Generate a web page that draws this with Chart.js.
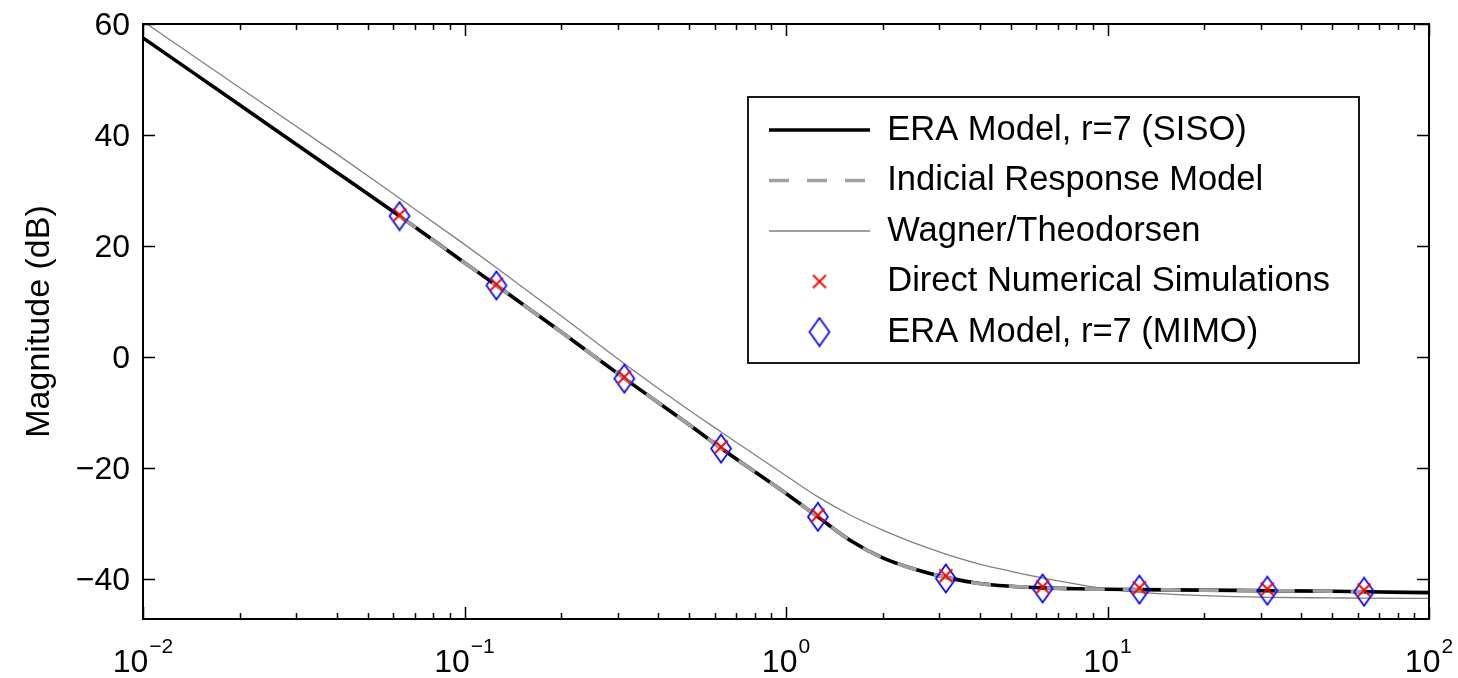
<!DOCTYPE html>
<html>
<head>
<meta charset="utf-8">
<title>Magnitude response</title>
<script src="https://cdn.jsdelivr.net/npm/chart.js@4.4.1/dist/chart.umd.min.js"></script>
<style>
  html, body { margin: 0; padding: 0; background: #fff; }
  #wrap { width: 1458px; height: 678px; }
</style>
</head>
<body>
<div id="wrap"><canvas id="bode" width="1458" height="678"></canvas></div>
<script>
// Reduced frequency grid for the continuous curves
const kGrid = [0.01, 0.02, 0.04, 0.0628, 0.1, 0.1257, 0.2, 0.3142, 0.5, 0.6283, 1.0, 1.2566, 1.6, 2.0, 2.5, 3.1416, 4.0, 5.0, 6.2832, 8.0, 10, 12.566, 20, 31.416, 50, 62.832, 100];
// ERA model, r=7 (SISO), magnitude in dB
const eraSiso = [57.5, 45.4, 33.3, 25.4, 17.0, 12.9, 4.5, -3.85, -12.2, -16.45, -24.6, -28.8, -33.2, -36.2, -38.2, -39.7, -40.8, -41.3, -41.6, -41.75, -41.85, -41.9, -42.0, -42.1, -42.2, -42.3, -42.45];
// Wagner/Theodorsen, magnitude in dB
const wagner = [60.5, 48.5, 36.6, 28.6, 20.3, 16.1, 7.4, -1.2, -9.6, -13.5, -21.4, -25.2, -28.6, -31.2, -33.5, -35.5, -37.3, -38.6, -39.8, -40.9, -41.8, -42.4, -43.0, -43.3, -43.4, -43.45, -43.5];
// Indicial response model (spans the simulated range only)
const kIndicial = [0.0628, 0.1, 0.1257, 0.2, 0.3142, 0.5, 0.6283, 1.0, 1.2566, 1.6, 2.0, 2.5, 3.1416, 4.0, 5.0, 6.2832, 8.0, 10, 12.566, 20, 31.416, 50, 62.832];
const indicial = [25.4, 17.0, 12.9, 4.5, -3.85, -12.2, -16.45, -24.6, -28.8, -33.2, -36.2, -38.2, -39.7, -40.8, -41.3, -41.6, -41.75, -41.85, -41.9, -42.0, -42.1, -42.2, -42.3];
// Discrete frequencies: direct numerical simulations and MIMO ERA model
const kSamples = [0.0628, 0.1257, 0.3142, 0.6283, 1.2566, 3.1416, 6.2832, 12.566, 31.416, 62.832];
const dns = [25.6, 13.1, -3.6, -16.2, -28.5, -39.4, -41.4, -41.6, -41.8, -42.0];
const eraMimo = [25.4, 12.9, -3.9, -16.5, -28.8, -39.9, -41.7, -41.9, -42.1, -42.3];

// Axis ticks: decades on x written as 10 with a raised exponent
const xTickValues = [0.01, 0.1, 1, 10, 100];
const xTickBase = '10';
const xTickExponents = ['\u22122', '\u22121', '0', '1', '2'];
const yTickValues = [-40, -20, 0, 20, 40, 60];
const yTickLabels = ['\u221240', '\u221220', '0', '20', '40', '60'];

const FONT = 'Liberation Sans, Arial, Helvetica, sans-serif';
const LEGEND_FRAME = { left: 748, top: 97, right: 1359, bottom: 363 };

const pts = (xs, ys) => xs.map((x, i) => ({ x: x, y: ys[i] }));

// Open diamond marker, slightly taller than wide
function diamondMarker() {
  const c = document.createElement('canvas');
  c.width = 24; c.height = 31;
  const g = c.getContext('2d');
  g.strokeStyle = '#0000ff';
  g.lineWidth = 1.7;
  g.beginPath();
  g.moveTo(12, 1.5); g.lineTo(22, 15.5); g.lineTo(12, 29.5); g.lineTo(2, 15.5);
  g.closePath();
  g.stroke();
  return c;
}
// Diagonal cross marker
function crossMarker() {
  const c = document.createElement('canvas');
  c.width = 16; c.height = 16;
  const g = c.getContext('2d');
  g.strokeStyle = '#ff0000';
  g.lineWidth = 1.8;
  g.beginPath();
  g.moveTo(1.5, 1.5); g.lineTo(14.5, 14.5);
  g.moveTo(14.5, 1.5); g.lineTo(1.5, 14.5);
  g.stroke();
  return c;
}
const diamond = diamondMarker();
const cross = crossMarker();

// Boxed axes with inward tick marks, decade labels, and the legend frame
const frameAndTicks = {
  id: 'frameAndTicks',
  afterLayout(chart) {
    const lg = chart.legend;
    if (!lg) return;
    const pad = lg.options.labels.padding;
    const fs = lg.options.labels.font.size;
    const nl = LEGEND_FRAME.left + 21 - pad;
    const nt = LEGEND_FRAME.top + 33 - fs / 2 - pad;
    const w = lg.width, h = lg.height;
    lg.left = nl; lg.right = nl + w;
    lg.top = nt; lg.bottom = nt + h;
  },
  afterDraw(chart) {
    const { ctx, chartArea: a, scales } = chart;
    const xs = scales.x, ys = scales.y;
    ctx.save();
    ctx.strokeStyle = '#000';
    ctx.lineWidth = 1.5;
    ctx.beginPath();
    xTickValues.forEach((d, i) => {
      const p = Math.round(xs.getPixelForValue(d)) + 0.5;
      ctx.moveTo(p, a.bottom); ctx.lineTo(p, a.bottom - 12);
      ctx.moveTo(p, a.top); ctx.lineTo(p, a.top + 12);
      if (i < xTickValues.length - 1) {
        for (let m = 2; m <= 9; m++) {
          const q = Math.round(xs.getPixelForValue(d * m)) + 0.5;
          ctx.moveTo(q, a.bottom); ctx.lineTo(q, a.bottom - 6);
          ctx.moveTo(q, a.top); ctx.lineTo(q, a.top + 6);
        }
      }
    });
    yTickValues.forEach((v) => {
      const p = Math.round(ys.getPixelForValue(v)) + 0.5;
      ctx.moveTo(a.left, p); ctx.lineTo(a.left + 12, p);
      ctx.moveTo(a.right, p); ctx.lineTo(a.right - 12, p);
    });
    ctx.stroke();
    ctx.lineWidth = 2;
    ctx.strokeRect(a.left, a.top, a.right - a.left, a.bottom - a.top);
    ctx.lineWidth = 1.8;
    ctx.strokeRect(LEGEND_FRAME.left, LEGEND_FRAME.top,
      LEGEND_FRAME.right - LEGEND_FRAME.left, LEGEND_FRAME.bottom - LEGEND_FRAME.top);

    // decade labels on the x axis
    const baseFont = '32px ' + FONT;
    const expFont = '21px ' + FONT;
    ctx.fillStyle = '#000';
    ctx.textBaseline = 'alphabetic';
    ctx.textAlign = 'left';
    xTickValues.forEach((d, i) => {
      const p = xs.getPixelForValue(d);
      ctx.font = baseFont;
      const wb = ctx.measureText(xTickBase).width;
      ctx.font = expFont;
      const we = ctx.measureText(xTickExponents[i]).width;
      const x0 = p - (wb + 1 + we) / 2;
      ctx.font = baseFont;
      ctx.fillText(xTickBase, x0, a.bottom + 53);
      ctx.font = expFont;
      ctx.fillText(xTickExponents[i], x0 + wb + 1, a.bottom + 34);
    });
    ctx.restore();
  }
};

Chart.defaults.font.family = FONT;
Chart.defaults.color = '#000';

new Chart(document.getElementById('bode'), {
  type: 'line',
  data: {
    datasets: [
      {
        label: 'ERA Model, r=7 (SISO)',
        data: pts(kGrid, eraSiso),
        borderColor: '#000000', borderWidth: 3.6,
        pointRadius: 0, cubicInterpolationMode: 'monotone', clip: 0, order: 4
      },
      {
        label: 'Indicial Response Model',
        data: pts(kIndicial, indicial),
        borderColor: '#a0a0a0', borderWidth: 3.6, borderDash: [20, 18],
        pointRadius: 0, cubicInterpolationMode: 'monotone', clip: 0, order: 3
      },
      {
        label: 'Wagner/Theodorsen',
        data: pts(kGrid, wagner),
        borderColor: '#808080', borderWidth: 1.3,
        pointRadius: 0, cubicInterpolationMode: 'monotone', clip: 0, order: 5
      },
      {
        label: 'Direct Numerical Simulations',
        data: pts(kSamples, dns),
        showLine: false, pointStyle: cross, pointRadius: 8,
        pointBorderColor: '#ff0000', pointBorderWidth: 1.8,
        borderColor: '#ff0000', order: 1
      },
      {
        label: 'ERA Model, r=7 (MIMO)',
        data: pts(kSamples, eraMimo),
        showLine: false, pointStyle: diamond, pointRadius: 10,
        pointBorderColor: '#0000ff', pointBorderWidth: 1.7,
        borderColor: '#0000ff', order: 2
      }
    ]
  },
  options: {
    responsive: false,
    devicePixelRatio: 1,
    animation: false,
    events: [],
    layout: { padding: { left: 0, top: 24, right: 29, bottom: 0 } },
    scales: {
      x: {
        type: 'logarithmic', min: 0.01, max: 100,
        grid: { display: false, drawTicks: false },
        border: { display: false },
        afterBuildTicks: (s) => { s.ticks = xTickValues.map((v) => ({ value: v, major: true })); },
        afterFit: (s) => { s.height = 59; s.paddingLeft = 0; s.paddingRight = 0; },
        ticks: { display: false, autoSkip: false, maxRotation: 0, minRotation: 0 }
      },
      y: {
        type: 'linear', min: -47.2, max: 60,
        grid: { display: false, drawTicks: false },
        border: { display: false },
        afterBuildTicks: (s) => { s.ticks = yTickValues.map((v) => ({ value: v })); },
        afterFit: (s) => { s.width = 143; s.paddingTop = 0; s.paddingBottom = 0; },
        ticks: {
          padding: 13, labelOffset: 2, font: { size: 32 }, color: '#000',
          callback: (v, i) => yTickLabels[i]
        },
        title: {
          display: true, text: 'Magnitude (dB)', color: '#000',
          font: { size: 34 }, padding: { top: 19, bottom: 0 }
        }
      }
    },
    plugins: {
      tooltip: { enabled: false },
      legend: {
        position: 'chartArea',
        align: 'start',
        labels: {
          usePointStyle: true,
          pointStyleWidth: 101,
          boxHeight: 13,
          padding: 16,
          color: '#000',
          font: { size: 34.5 },
          generateLabels: (chart) => chart.data.datasets.map((ds, i) => {
            const marker = ds.showLine === false;
            return {
              text: ds.label,
              datasetIndex: i,
              hidden: false,
              fontColor: '#000',
              fillStyle: 'rgba(0,0,0,0)',
              strokeStyle: marker ? ds.pointBorderColor : ds.borderColor,
              lineWidth: marker ? ds.pointBorderWidth : ds.borderWidth,
              lineDash: ds.borderDash || [],
              lineCap: 'butt',
              pointStyle: marker ? ds.pointStyle : 'line',
              rotation: 0
            };
          })
        }
      }
    }
  },
  plugins: [frameAndTicks]
});
</script>
</body>
</html>
